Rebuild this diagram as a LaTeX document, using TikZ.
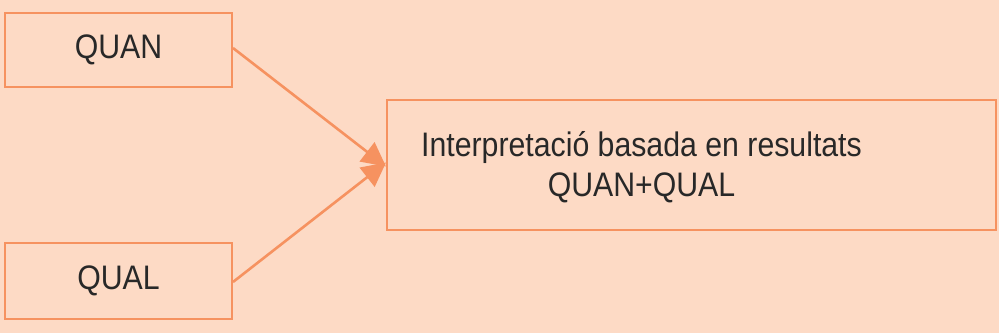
\documentclass[tikz,border=0pt]{standalone}
\usepackage{fontspec}
\setmainfont{Liberation Sans}[FakeStretch=0.89]
\usetikzlibrary{arrows.meta}
\definecolor{bgpeach}{RGB}{253,218,197}
\definecolor{edgeorange}{RGB}{246,146,96}
\definecolor{txtgray}{RGB}{40,40,40}
\tikzset{
  box/.style={draw=edgeorange, line width=2pt, rectangle, inner sep=0pt},
  lbl/.style={text=txtgray, font=\fontsize{34}{40}\selectfont, align=center, inner sep=0pt},
  conn/.style={draw=edgeorange, line width=2.6pt, -{Triangle[length=24pt,width=24pt]}}
}
\begin{document}
\begin{tikzpicture}[x=1pt,y=-1pt]
\fill[bgpeach] (0,0) rectangle (999,333);
\useasboundingbox (0,0) rectangle (999,333);
\node[box, minimum width=227pt, minimum height=74pt] (quan) at (118.5,50) {};
\node[lbl] (quantext) at (118.5,50) {QUAN};
\node[box, minimum width=227pt, minimum height=76pt] (qual) at (118.5,281) {};
\node[lbl] (qualtext) at (118.5,281) {QUAL};
\node[box, minimum width=609pt, minimum height=130pt] (res) at (691.5,165) {};
\node[lbl] (restext) at (641.5,167) {Interpretació basada en resultats\\QUAN+QUAL};
\coordinate (tipA) at ([yshift=-1.5pt]res.west);
\coordinate (tipB) at ([yshift=2.5pt]res.west);
\draw[conn] ([yshift=2pt]quan.east) -- (tipA);
\draw[conn] ([yshift=-1pt]qual.east) -- (tipB);
\end{tikzpicture}
\end{document}
